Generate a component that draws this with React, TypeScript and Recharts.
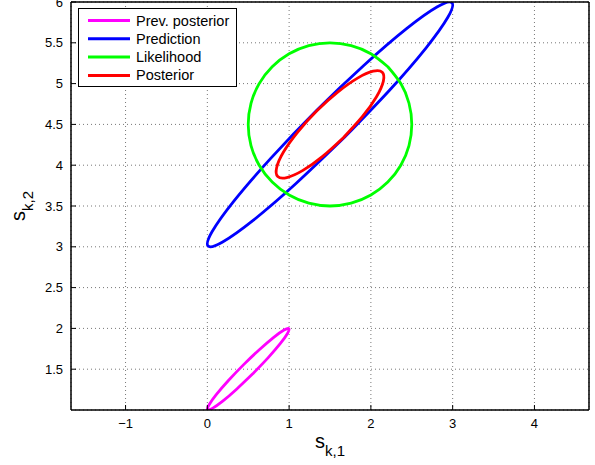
import React from 'react';
import { LineChart, Line, XAxis, YAxis, CartesianGrid, Legend } from 'recharts';

interface Pt {
  x: number;
  y: number;
}

// contour points (s_k,1 , s_k,2)
const prevPosterior: Pt[] = [
  { x: 0.556, y: 1.444 }, { x: 0.361, y: 1.258 }, { x: 0.188, y: 1.109 }, { x: 0.062, y: 1.02 },
  { x: 0.003, y: 1.003 }, { x: 0.02, y: 1.062 }, { x: 0.109, y: 1.188 }, { x: 0.258, y: 1.361 },
  { x: 0.444, y: 1.556 }, { x: 0.639, y: 1.742 }, { x: 0.812, y: 1.891 }, { x: 0.938, y: 1.98 },
  { x: 0.997, y: 1.997 }, { x: 0.98, y: 1.938 }, { x: 0.891, y: 1.812 }, { x: 0.742, y: 1.639 },
  { x: 0.556, y: 1.444 },
];

const prediction: Pt[] = [
  { x: 1.668, y: 4.332 }, { x: 1.084, y: 3.775 }, { x: 0.564, y: 3.327 }, { x: 0.187, y: 3.059 },
  { x: 0.009, y: 3.009 }, { x: 0.059, y: 3.187 }, { x: 0.327, y: 3.564 }, { x: 0.775, y: 4.084 },
  { x: 1.332, y: 4.668 }, { x: 1.916, y: 5.225 }, { x: 2.436, y: 5.673 }, { x: 2.813, y: 5.941 },
  { x: 2.991, y: 5.991 }, { x: 2.941, y: 5.813 }, { x: 2.673, y: 5.436 }, { x: 2.225, y: 4.916 },
  { x: 1.668, y: 4.332 },
];

const likelihood: Pt[] = [
  { x: 2.207, y: 5.207 }, { x: 2.0, y: 5.366 }, { x: 1.759, y: 5.466 }, { x: 1.5, y: 5.5 },
  { x: 1.241, y: 5.466 }, { x: 1.0, y: 5.366 }, { x: 0.793, y: 5.207 }, { x: 0.634, y: 5.0 },
  { x: 0.534, y: 4.759 }, { x: 0.5, y: 4.5 }, { x: 0.534, y: 4.241 }, { x: 0.634, y: 4.0 },
  { x: 0.793, y: 3.793 }, { x: 1.0, y: 3.634 }, { x: 1.241, y: 3.534 }, { x: 1.5, y: 3.5 },
  { x: 1.759, y: 3.534 }, { x: 2.0, y: 3.634 }, { x: 2.207, y: 3.793 }, { x: 2.366, y: 4.0 },
  { x: 2.466, y: 4.241 }, { x: 2.5, y: 4.5 }, { x: 2.466, y: 4.759 }, { x: 2.366, y: 5.0 },
  { x: 2.207, y: 5.207 },
];

const posterior: Pt[] = [
  { x: 1.663, y: 4.337 }, { x: 1.406, y: 4.105 }, { x: 1.164, y: 3.933 }, { x: 0.972, y: 3.848 },
  { x: 0.861, y: 3.861 }, { x: 0.848, y: 3.972 }, { x: 0.933, y: 4.164 }, { x: 1.105, y: 4.406 },
  { x: 1.337, y: 4.663 }, { x: 1.594, y: 4.895 }, { x: 1.837, y: 5.067 }, { x: 2.028, y: 5.152 },
  { x: 2.139, y: 5.139 }, { x: 2.152, y: 5.028 }, { x: 2.067, y: 4.836 }, { x: 1.895, y: 4.594 },
  { x: 1.663, y: 4.337 },
];

const xTicks = [-1, 0, 1, 2, 3, 4];
const yTicks = [1.5, 2, 2.5, 3, 3.5, 4, 4.5, 5, 5.5, 6];
const xDomain = [-1.667, 4.667];
const yDomain = [1, 6];

const series = [
  { name: 'Prev. posterior', data: prevPosterior, color: '#ff00ff' },
  { name: 'Prediction', data: prediction, color: '#0000ff' },
  { name: 'Likelihood', data: likelihood, color: '#00ff00' },
  { name: 'Posterior', data: posterior, color: '#ff0000' },
];

const FONT = '"Liberation Sans", Arial, Helvetica, sans-serif';
const tickStyle = { fontSize: 13, fill: '#000', fontFamily: FONT };
const fmt = (v: number) => (v < 0 ? `\u2212${Math.abs(v)}` : `${v}`);

function LegendBox() {
  return (
    <svg width={160} height={80} style={{ display: 'block' }}>
      <rect x={0.5} y={0.5} width={158} height={78} fill="#fff" stroke="#000" strokeWidth={1} />
      {series.map((s, i) => {
        const cy = 12.5 + i * 18.3;
        return (
          <g key={s.name}>
            <line x1={10} x2={52} y1={cy} y2={cy} stroke={s.color} strokeWidth={3} />
            <text x={58} y={cy + 5} fontSize={14.5} fontFamily={FONT} fill="#000">
              {s.name}
            </text>
          </g>
        );
      })}
    </svg>
  );
}

function XTitle(props: any) {
  const vb = props.viewBox || { x: 71, y: 410, width: 518 };
  return (
    <text x={vb.x + vb.width / 2} y={vb.y + 38} textAnchor="middle" fontFamily={FONT} fill="#000">
      <tspan fontSize={20}>s</tspan>
      <tspan fontSize={15} dy={8}>k,1</tspan>
    </text>
  );
}

function YTitle(props: any) {
  const vb = props.viewBox || { x: 0, y: 2, height: 408 };
  const x = vb.x + 25;
  const y = vb.y + vb.height / 2;
  return (
    <text x={x} y={y} transform={`rotate(-90, ${x}, ${y})`} textAnchor="middle" fontFamily={FONT} fill="#000">
      <tspan fontSize={20}>s</tspan>
      <tspan fontSize={15} dy={8}>k,2</tspan>
    </text>
  );
}

export default function App() {
  return (
    <div style={{ position: 'absolute', left: 0, top: 0, background: '#fff' }}>
      <LineChart width={595} height={465} margin={{ top: 1, right: 5, bottom: 0, left: 0 }}>
        <CartesianGrid stroke="#777" strokeDasharray="1 3" />
        <XAxis
          type="number"
          dataKey="x"
          domain={xDomain}
          ticks={xTicks}
          interval={0}
          allowDataOverflow
          height={55}
          tickSize={-5}
          tickMargin={14}
          tickFormatter={fmt}
          tick={tickStyle}
          tickLine={{ stroke: '#000' }}
          axisLine={{ stroke: '#000', strokeWidth: 1.5 }}
          label={<XTitle />}
        />
        <XAxis
          xAxisId="top"
          orientation="top"
          type="number"
          dataKey="x"
          domain={xDomain}
          ticks={xTicks}
          interval={0}
          allowDataOverflow
          height={1}
          tickSize={-5}
          tick={false}
          tickLine={{ stroke: '#000' }}
          axisLine={{ stroke: '#000', strokeWidth: 1.5 }}
        />
        <YAxis
          type="number"
          domain={yDomain}
          ticks={yTicks}
          interval={0}
          allowDataOverflow
          width={71}
          tickSize={-5}
          tickMargin={13}
          tick={tickStyle}
          tickLine={{ stroke: '#000' }}
          axisLine={{ stroke: '#000', strokeWidth: 1.5 }}
          label={<YTitle />}
        />
        <YAxis
          yAxisId="right"
          orientation="right"
          type="number"
          domain={yDomain}
          ticks={yTicks}
          interval={0}
          allowDataOverflow
          width={1}
          tickSize={-5}
          tick={false}
          tickLine={{ stroke: '#000' }}
          axisLine={{ stroke: '#000', strokeWidth: 1.5 }}
        />
        {series.map((s) => (
          <Line
            key={s.name}
            name={s.name}
            data={s.data}
            dataKey="y"
            type="natural"
            stroke={s.color}
            strokeWidth={2.8}
            dot={false}
            activeDot={false}
            isAnimationActive={false}
          />
        ))}
        <Legend
          layout="vertical"
          align="center"
          verticalAlign="middle"
          content={<LegendBox />}
          wrapperStyle={{ left: 78, top: 8, width: 160, height: 80 }}
        />
      </LineChart>
    </div>
  );
}
